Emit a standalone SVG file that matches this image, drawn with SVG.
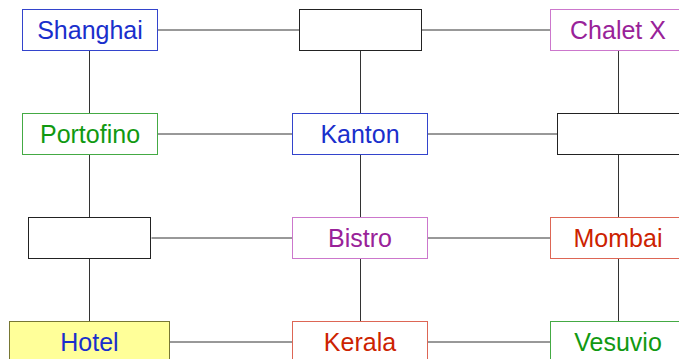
<svg xmlns="http://www.w3.org/2000/svg" width="679" height="359" viewBox="0 0 679 359">
<style>
rect{fill:#fff;stroke-width:1}
text{font-family:"Liberation Sans",Arial,sans-serif;font-size:25px;text-anchor:middle}
.blue rect{stroke:#3344cc}.blue text{fill:#1a2fcc}
.green rect{stroke:#44aa44}.green text{fill:#119911}
.purple rect{stroke:#cc77cc}.purple text{fill:#992299}
.red rect{stroke:#dd6655}.red text{fill:#cc2200}
.plain rect{stroke:#222}
.hotel rect{fill:#ffff99;stroke:#777733}
#edges line{stroke:#333;stroke-width:1}
</style>
<g id="edges">
<line x1="157.5" y1="30" x2="299.5" y2="30"/>
<line x1="421.5" y1="30" x2="550.5" y2="30"/>
<line x1="157.5" y1="134" x2="292.5" y2="134"/>
<line x1="427.5" y1="134" x2="557.5" y2="134"/>
<line x1="151.5" y1="238" x2="292.5" y2="238"/>
<line x1="427.5" y1="238" x2="550.5" y2="238"/>
<line x1="170" y1="342" x2="292.5" y2="342"/>
<line x1="427.5" y1="342" x2="550.5" y2="342"/>
<line x1="89.5" y1="50.5" x2="89.5" y2="113.5"/>
<line x1="89.5" y1="154.5" x2="89.5" y2="217.5"/>
<line x1="89.5" y1="258.5" x2="89.5" y2="321.5"/>
<line x1="360.5" y1="50.5" x2="360.5" y2="113.5"/>
<line x1="360.5" y1="154.5" x2="360.5" y2="217.5"/>
<line x1="360.5" y1="258.5" x2="360.5" y2="321.5"/>
<line x1="618.5" y1="50.5" x2="618.5" y2="113.5"/>
<line x1="618.5" y1="154.5" x2="618.5" y2="217.5"/>
<line x1="618.5" y1="258.5" x2="618.5" y2="321.5"/>
</g>
<g id="shanghai" class="blue"><rect x="22.5" y="9.5" width="135" height="41"/><text x="90" y="39">Shanghai</text></g>
<g id="top-mid" class="plain"><rect x="299.5" y="9.5" width="122" height="41"/></g>
<g id="chalet" class="purple"><rect x="550.5" y="9.5" width="135" height="41"/><text x="618" y="39">Chalet X</text></g>
<g id="portofino" class="green"><rect x="22.5" y="113.5" width="135" height="41"/><text x="90" y="143">Portofino</text></g>
<g id="kanton" class="blue"><rect x="292.5" y="113.5" width="135" height="41"/><text x="360" y="143">Kanton</text></g>
<g id="right-mid" class="plain"><rect x="557.5" y="113.5" width="122" height="41"/></g>
<g id="left-mid" class="plain"><rect x="28.5" y="217.5" width="122" height="41"/></g>
<g id="bistro" class="purple"><rect x="292.5" y="217.5" width="135" height="41"/><text x="360" y="247">Bistro</text></g>
<g id="mombai" class="red"><rect x="550.5" y="217.5" width="135" height="41"/><text x="618" y="247">Mombai</text></g>
<g id="hotel" class="hotel"><rect x="9.5" y="321.5" width="160" height="41"/><text x="89.5" y="351" fill="#1a2fcc">Hotel</text></g>
<g id="kerala" class="red"><rect x="292.5" y="321.5" width="135" height="41"/><text x="360" y="351">Kerala</text></g>
<g id="vesuvio" class="green"><rect x="550.5" y="321.5" width="135" height="41"/><text x="618" y="351">Vesuvio</text></g>
</svg>
